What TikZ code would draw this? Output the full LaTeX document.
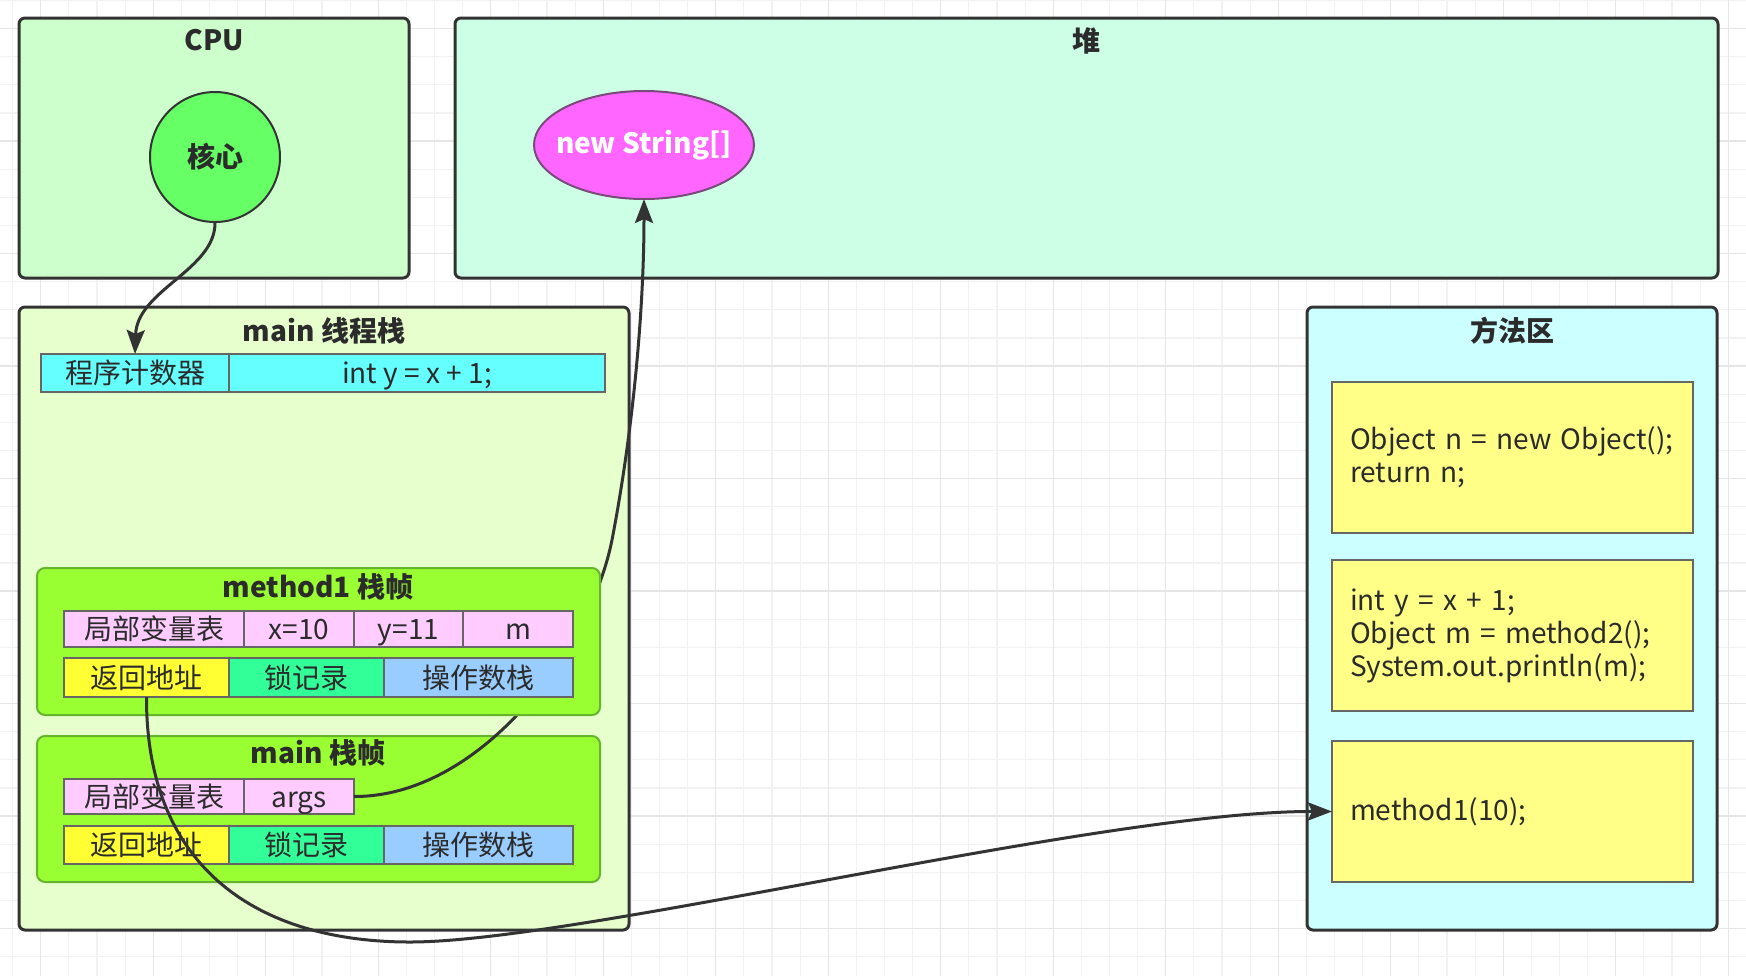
\documentclass[tikz,border=0pt]{standalone}
\usepackage{fontspec}
\setmainfont{Noto Sans CJK SC}
\usetikzlibrary{arrows.meta,shapes.geometric}
\definecolor{dk}{HTML}{333333}
\definecolor{txt}{HTML}{2B2B2B}
\definecolor{gridminor}{HTML}{F2F2F2}
\definecolor{gridmajor}{HTML}{E6E6E6}
\definecolor{cpufill}{HTML}{CCFFCC}
\definecolor{heapfill}{HTML}{CCFFE6}
\definecolor{corefill}{HTML}{66FF66}
\definecolor{strfill}{HTML}{FF66FF}
\definecolor{strstroke}{HTML}{7A4A7A}
\definecolor{stackfill}{HTML}{E6FFCC}
\definecolor{mafill}{HTML}{CCFFFF}
\definecolor{frfill}{HTML}{99FF33}
\definecolor{frstroke}{HTML}{66B32E}
\definecolor{cellstroke}{HTML}{666666}
\definecolor{pcfill}{HTML}{66FFFF}
\definecolor{pinkfill}{HTML}{FFCCFF}
\definecolor{yelfill}{HTML}{FFFF33}
\definecolor{lockfill}{HTML}{33FF99}
\definecolor{opfill}{HTML}{99CCFF}
\definecolor{codefill}{HTML}{FFFF88}
\begin{document}
\begin{tikzpicture}[x=0.5pt,y=-0.5pt,
  base/.style={font=\fontsize{14pt}{16.5pt}\selectfont, text=txt},
  ttl/.style={font=\fontsize{14pt}{16.5pt}\selectfont\bfseries, text=txt, inner sep=0},
  sz/.style 2 args={minimum width=#1*0.5pt, minimum height=#2*0.5pt, inner sep=0, outer sep=0},
  outer/.style={draw=dk, line width=1.5pt, rounded corners=3pt},
  framebox/.style={draw=frstroke, fill=frfill, line width=1pt, rounded corners=4pt},
  cell/.style={draw=cellstroke, line width=1pt, base, text height=12.3pt, text depth=1.7pt},
  codebox/.style={draw=cellstroke, line width=1pt, base, fill=codefill, align=left, text width=162.5pt},
  conn/.style={draw=dk, line width=1.5pt, -{Stealth[length=12pt,width=9pt,inset=2pt]}}
]
\useasboundingbox (0,0) rectangle (1746,976);
\fill[white] (0,0) rectangle (1746,976);
% grid
\foreach \i in {0,...,62} {\draw[gridminor, line width=0.6pt] ({12.6+28.125*\i},0) -- ({12.6+28.125*\i},976);}
\foreach \j in {0,...,34} {\draw[gridminor, line width=0.6pt] (0,{0.4+28.125*\j}) -- (1746,{0.4+28.125*\j});}
\foreach \i in {0,...,15} {\draw[gridmajor, line width=0.7pt] ({40.7+112.5*\i},0) -- ({40.7+112.5*\i},976);}
\foreach \j in {0,...,8} {\draw[gridmajor, line width=0.7pt] (0,{28.5+112.5*\j}) -- (1746,{28.5+112.5*\j});}

% CPU
\node[outer, fill=cpufill, sz={390}{260}] (cpu) at (214,148) {};
\node[ttl] (cputitle) at (214,40) {CPU};
\node[circle, draw=dk, line width=1pt, fill=corefill, minimum size=65pt, ttl] (core) at (215,157) {核心};

% heap
\node[outer, fill=heapfill, sz={1263}{260}] (heap) at (1086.5,148) {};
\node[ttl] (heaptitle) at (1086,41) {堆};
\node[ellipse, draw=strstroke, line width=1pt, fill=strfill, sz={220}{108},
      label={[ttl, text=white]center:new String[]}] (newstr) at (644,145) {};

% main thread stack
\node[outer, fill=stackfill, sz={610}{623}] (stack) at (324,618.5) {};
\node[ttl] (stacktitle) at (324,331) {main 线程栈};
\node[cell, fill=pcfill, sz={188}{38}] (pclabel) at (135,373) {程序计数器};
\node[cell, fill=pcfill, sz={376}{38}] (pcval) at (417,373) {int y = x + 1;};

% main frame
\node[framebox, sz={563}{146}] (mainframe) at (318.5,809) {};
\node[ttl] (maintitle) at (318,753) {main 栈帧};
\node[cell, fill=pinkfill, sz={180}{35}] (mlocal) at (154,796.5) {局部变量表};
\node[cell, fill=pinkfill, sz={110}{35}] (margs) at (299,796.5) {args};
\node[cell, fill=yelfill, sz={165}{38}] (mret) at (146.5,845) {返回地址};
\node[cell, fill=lockfill, sz={155}{38}] (mlock) at (306.5,845) {锁记录};
\node[cell, fill=opfill, sz={189}{38}] (mop) at (478.5,845) {操作数栈};

% args -> new String[]
\draw[conn] (margs.east) .. controls (480,797) and (590,650) .. (612,540) .. controls (635,420) and (644,300) .. (newstr.south);

% method1 frame
\node[framebox, sz={563}{147}] (m1frame) at (318.5,641.5) {};
\node[ttl] (m1title) at (318,587) {method1 栈帧};
\node[cell, fill=pinkfill, sz={180}{36}] (m1local) at (154,629) {局部变量表};
\node[cell, fill=pinkfill, sz={110}{36}] (m1x) at (299,629) {x=10};
\node[cell, fill=pinkfill, sz={109}{36}] (m1y) at (408.5,629) {y=11};
\node[cell, fill=pinkfill, sz={110}{36}] (m1m) at (518,629) {m};
\node[cell, fill=yelfill, sz={165}{39}] (m1ret) at (146.5,677.5) {返回地址};
\node[cell, fill=lockfill, sz={155}{39}] (m1lock) at (306.5,677.5) {锁记录};
\node[cell, fill=opfill, sz={189}{39}] (m1op) at (478.5,677.5) {操作数栈};

% method area
\node[outer, fill=mafill, sz={410}{623}] (ma) at (1512,618.5) {};
\node[ttl] (matitle) at (1512,331) {方法区};
\node[codebox, sz={361}{151}] (ma1) at (1512.5,457.5) {Object n = new Object();\\return n;};
\node[codebox, sz={361}{151}] (ma2) at (1512.5,635.5) {int y = x + 1;\\Object m = method2();\\System.out.println(m);};
\node[codebox, sz={361}{141}] (ma3) at (1512.5,811.5) {method1(10);};

% connectors
\draw[conn] (core.south) .. controls (215,270) and (137,290) .. (pclabel.north);
\draw[conn] (m1ret.south) .. controls (146,870) and (260,942) .. (410,942) .. controls (580,942) and (1100,811) .. (ma3.west);
\end{tikzpicture}
\end{document}
